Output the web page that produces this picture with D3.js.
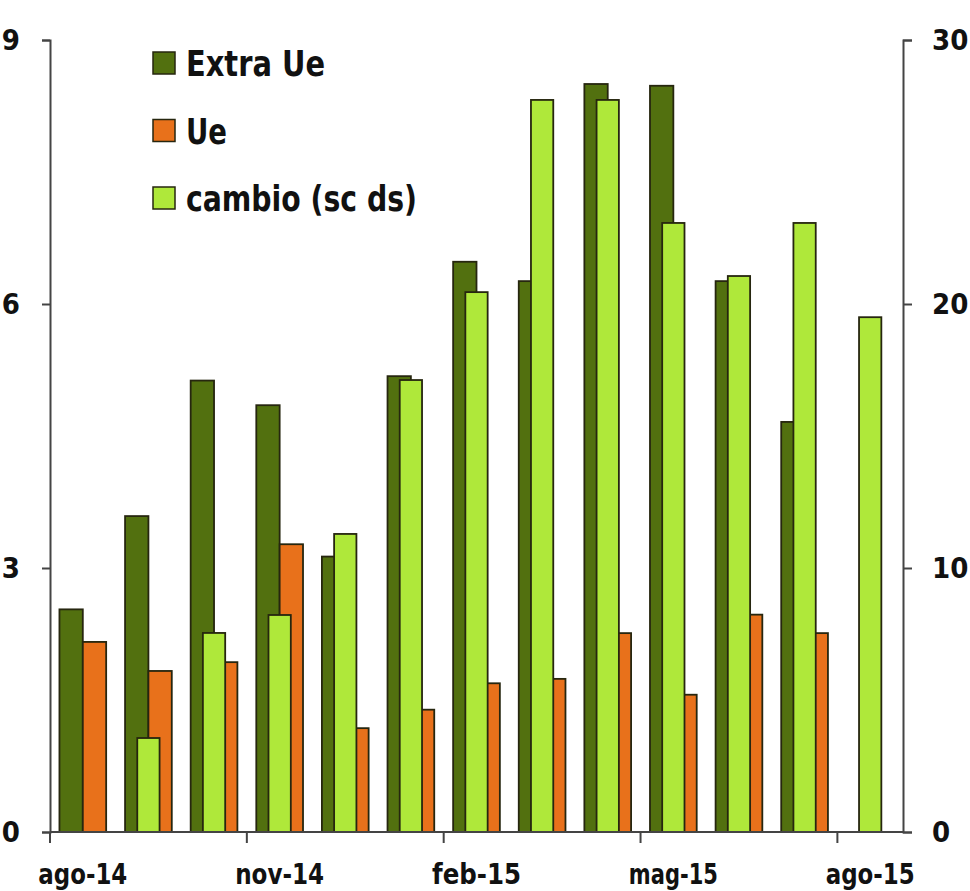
<!DOCTYPE html>
<html><head><meta charset="utf-8">
<script src="https://cdn.jsdelivr.net/npm/d3@7"></script>
<style>
body{margin:0;background:#fff;}
svg{display:block;}
.lab{font-family:"Liberation Sans Narrow","DejaVu Sans Condensed","Arial Narrow",sans-serif;font-weight:bold;fill:#111;}
</style></head>
<body>
<svg id="c" width="970" height="891"></svg>
<script>
const months = ["ago-14","set-14","ott-14","nov-14","dic-14","gen-15","feb-15","mar-15","apr-15","mag-15","giu-15","lug-15","ago-15"];
const extraUe = [2.53,3.59,5.13,4.85,3.13,5.18,6.48,6.26,8.50,8.48,6.26,4.66,null];
const ue      = [2.16,1.83,1.93,3.27,1.18,1.39,1.69,1.74,2.26,1.56,2.47,2.26,null];
const cambio  = [0,3.56,7.54,8.22,11.29,17.12,20.45,27.73,27.73,23.07,21.06,23.07,19.5];
const leftTicks = [0,3,6,9];
const rightTicks = [0,10,20,30];
const xTickLabels = ["ago-14","nov-14","feb-15","mag-15","ago-15"];
const seriesNames = ["Extra Ue","Ue","cambio (sc ds)"];
const colors = {"Extra Ue":"#52700f","Ue":"#e8711b","cambio (sc ds)":"#afe83a"};

const svg = d3.select("#c");
const L = 50, R = 903, T = 40, B = 832;
const x = d3.scaleBand().domain(months).range([L,R]).padding(0);
const yL = d3.scaleLinear().domain([0,9]).range([B,T]);
const yR = d3.scaleLinear().domain([0,30]).range([B,T]);
const bw = x.bandwidth();
const pw = bw*0.356, sw = bw*0.34;
const stroke = "#26260f";

// primary bars
const prim = [{name:"Extra Ue",vals:extraUe,off:-pw},{name:"Ue",vals:ue,off:0}];
prim.forEach(s=>{
  svg.append("g").selectAll("rect").data(months.map((m,i)=>({m,v:s.vals[i]})).filter(d=>d.v!==null))
    .join("rect")
    .attr("x",d=>x(d.m)+bw/2+s.off)
    .attr("width",pw)
    .attr("y",d=>yL(d.v))
    .attr("height",d=>yL(0)-yL(d.v))
    .attr("fill",colors[s.name]).attr("stroke",stroke).attr("stroke-width",1.8);
});
// secondary bars
svg.append("g").selectAll("rect").data(months.map((m,i)=>({m,v:cambio[i]})).filter(d=>d.v!==null))
  .join("rect")
  .attr("x",d=>x(d.m)+bw/2-sw/2)
  .attr("width",sw)
  .attr("y",d=>yR(d.v))
  .attr("height",d=>yR(0)-yR(d.v))
  .attr("fill",colors["cambio (sc ds)"]).attr("stroke",stroke).attr("stroke-width",1.8);

// axes
const axisColor = "#444";
const gl = svg.append("g").attr("transform",`translate(${L},0)`)
  .call(d3.axisLeft(yL).tickValues(leftTicks).tickSize(8).tickPadding(22).tickFormat(d3.format("d")));
const gr = svg.append("g").attr("transform",`translate(${R},0)`)
  .call(d3.axisRight(yR).tickValues(rightTicks).tickSize(9).tickPadding(20).tickFormat(d3.format("d")));
[gl,gr].forEach(g=>{
  g.selectAll("path,line").attr("stroke",axisColor).attr("stroke-width",2);
  g.selectAll("text").attr("class","lab").style("font-size","29px").attr("fill","#111");
});
// bottom axis: domain line + ticks at band start + labels at band centres
const gb = svg.append("g").attr("transform",`translate(0,${B})`);
gb.append("line").attr("x1",L).attr("x2",R).attr("stroke",axisColor).attr("stroke-width",2);
gb.selectAll("line.t").data(xTickLabels).join("line").attr("class","t")
  .attr("x1",d=>x(d)).attr("x2",d=>x(d)).attr("y1",0).attr("y2",11)
  .attr("stroke",axisColor).attr("stroke-width",2);
gb.selectAll("text").data(xTickLabels).join("text").attr("class","lab")
  .attr("x",d=>x(d)+bw/2).attr("y",52).attr("text-anchor","middle")
  .style("font-size","29px").attr("textLength",89).attr("lengthAdjust","spacingAndGlyphs").text(d=>d);

// legend
const lg = svg.append("g");
const lwidths = [139,41,231];
seriesNames.forEach((n,i)=>{
  const cy = 63 + i*67.5;
  lg.append("rect").attr("x",153).attr("y",cy-11).attr("width",22).attr("height",22)
    .attr("fill",colors[n]).attr("stroke",stroke).attr("stroke-width",1.5);
  lg.append("text").attr("class","lab").attr("x",186).attr("y",cy+13)
    .style("font-size","36px").attr("textLength",lwidths[i]).attr("lengthAdjust","spacingAndGlyphs").text(n);
});
</script>
</body></html>
